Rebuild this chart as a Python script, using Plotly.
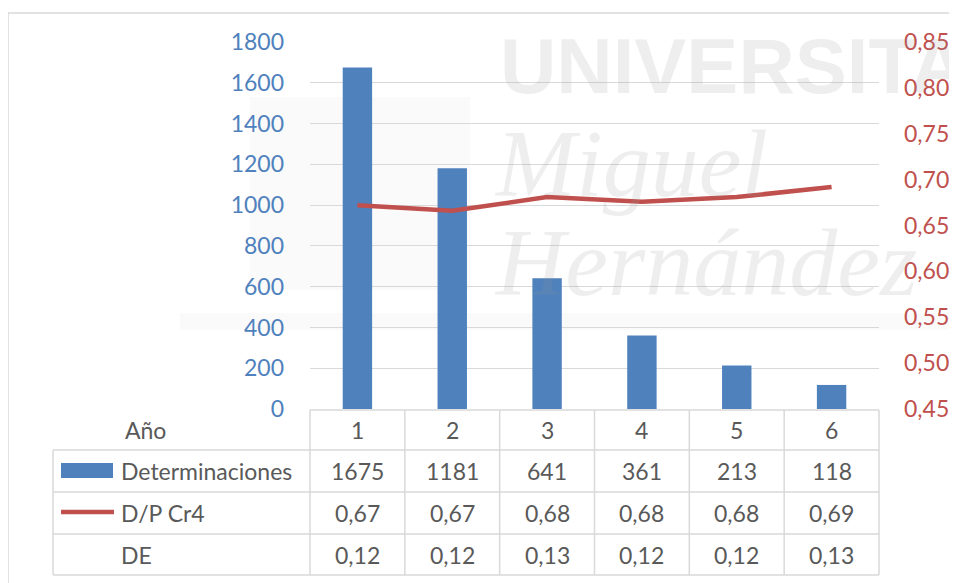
import plotly.graph_objects as go

# ---- data ----
years = [1, 2, 3, 4, 5, 6]
determinaciones = [1675, 1181, 641, 361, 213, 118]
dp_cr4 = [0.672, 0.666, 0.681, 0.676, 0.681, 0.692]
de = [0.12, 0.12, 0.13, 0.12, 0.12, 0.13]
left_ticks = [0, 200, 400, 600, 800, 1000, 1200, 1400, 1600, 1800]
right_ticks = [0.45, 0.50, 0.55, 0.60, 0.65, 0.70, 0.75, 0.80, 0.85]
row_labels = ["Año", "Determinaciones", "D/P Cr4", "DE"]

# ---- styles ----
OFF = 8  # page body margin: figure origin sits at page (8, 8)
W, H = 957 - OFF, 583 - OFF
PL, PR, PT, PB = 310, 879, 42, 409  # plot area in page pixels
L, R, T, B = PL - OFF, W - (PR - OFF), PT - OFF, H - (PB - OFF)
PW, PH = W - L - R, H - T - B
BLUE = "#4F81BD"
RED = "#C0504D"
GRID = "#D9D9D9"
TXT = "#595959"
FONT = "Lato"
FS = 23


def px(x):
    return (x - PL) / PW


def py(y):
    return (PB - y) / PH


def fmt(v):
    return f"{v:.2f}".replace(".", ",")


fig = go.Figure()
fig.add_bar(x=years, y=determinaciones, width=0.31, name="Determinaciones",
            marker=dict(color=BLUE, line=dict(width=0)), yaxis="y")
fig.add_scatter(x=years, y=dp_cr4, mode="lines", name="D/P Cr4",
                line=dict(color=RED, width=4.5), yaxis="y2")

shapes = []
annotations = []

# watermark (very faint)
wm = "rgba(150,150,150,0.16)"
annotations += [
    dict(text="<b>UNIVERSITAS</b>", xref="paper", yref="paper", x=px(498), y=py(66),
         xanchor="left", yanchor="middle", showarrow=False,
         font=dict(family="Liberation Sans", size=78, color=wm)),
    dict(text="<i>Miguel</i>", xref="paper", yref="paper", x=px(492), y=py(163),
         xanchor="left", yanchor="middle", showarrow=False,
         font=dict(family="Liberation Serif", size=96, color=wm)),
    dict(text="<i>Hernández</i>", xref="paper", yref="paper", x=px(492), y=py(262),
         xanchor="left", yanchor="middle", showarrow=False,
         font=dict(family="Liberation Serif", size=96, color=wm)),
]
shapes += [
    dict(type="rect", xref="paper", yref="paper", x0=px(250), x1=px(470), y0=py(97), y1=py(290),
         fillcolor="rgba(150,150,150,0.05)", line=dict(width=0), layer="below"),
    dict(type="rect", xref="paper", yref="paper", x0=px(180), x1=px(957), y0=py(313), y1=py(330),
         fillcolor="rgba(150,150,150,0.05)", line=dict(width=0), layer="below"),
]

# outer chart border
shapes.append(dict(type="rect", xref="paper", yref="paper", x0=px(8), x1=px(955),
                   y0=py(13), y1=py(620), line=dict(color=GRID, width=1.5),
                   fillcolor="rgba(0,0,0,0)"))

# data table grid
row_edges = [410, 450, 492, 534, 575]
xmin, xmax = 0.5, 6.5
col_edges = [(c - xmin) / (xmax - xmin) for c in [y - 0.5 for y in years] + [years[-1] + 0.5]]
line_style = dict(color=GRID, width=1.5)
for cx in col_edges:
    shapes.append(dict(type="line", xref="paper", yref="paper", x0=cx, x1=cx,
                       y0=py(row_edges[0]), y1=py(row_edges[-1]), line=line_style))
shapes.append(dict(type="line", xref="paper", yref="paper", x0=0, x1=1,
                   y0=py(row_edges[0]), y1=py(row_edges[0]), line=line_style))
for ry in row_edges[1:]:
    shapes.append(dict(type="line", xref="paper", yref="paper", x0=px(53), x1=1,
                       y0=py(ry), y1=py(ry), line=line_style))
shapes.append(dict(type="line", xref="paper", yref="paper", x0=px(53), x1=px(53),
                   y0=py(row_edges[1]), y1=py(row_edges[-1]), line=line_style))

# legend keys in table
shapes.append(dict(type="rect", xref="paper", yref="paper", x0=px(61), x1=px(113),
                   y0=py(478), y1=py(463), fillcolor=BLUE, line=dict(width=0)))
shapes.append(dict(type="line", xref="paper", yref="paper", x0=px(61), x1=px(114),
                   y0=py(512), y1=py(512), line=dict(color=RED, width=4.5)))

# table text
row_centers = [(row_edges[i] + row_edges[i + 1]) / 2 for i in range(4)]
rows = [
    [str(v) for v in years],
    [str(v) for v in determinaciones],
    [fmt(v) for v in dp_cr4],
    [fmt(v) for v in de],
]
for r, vals in enumerate(rows):
    for yr, txt in zip(years, vals):
        annotations.append(dict(text=txt, xref="x", yref="paper", x=yr, y=py(row_centers[r]),
                                xanchor="center", yanchor="middle", showarrow=False,
                                font=dict(family=FONT, size=FS, color=TXT)))
label_x = [123, 119, 119, 119]
for r, lab in enumerate(row_labels):
    annotations.append(dict(text=lab, xref="paper", yref="paper", x=px(label_x[r]),
                            y=py(row_centers[r]), xanchor="left", yanchor="middle",
                            showarrow=False, font=dict(family=FONT, size=FS, color=TXT)))

fig.update_layout(
    width=W, height=H,
    margin=dict(l=L, r=R, t=T, b=B, autoexpand=False),
    paper_bgcolor="white", plot_bgcolor="white",
    showlegend=False,
    separators=",.",
    font=dict(family=FONT, size=FS, color=TXT),
    xaxis=dict(range=[xmin, xmax], showticklabels=False, showgrid=False,
               zeroline=False, showline=False, ticks=""),
    yaxis=dict(range=[0, 1800], tickvals=left_ticks, showgrid=True, gridcolor=GRID,
               gridwidth=1.3, zeroline=False, showline=False, ticks="",
               tickfont=dict(family=FONT, size=FS, color=BLUE), ticklabelstandoff=25),
    yaxis2=dict(range=[0.45, 0.85], tickvals=right_ticks, tickformat=".2f",
                overlaying="y", side="right", showgrid=False, zeroline=False,
                showline=False, ticks="",
                tickfont=dict(family=FONT, size=FS, color=RED), ticklabelstandoff=24),
    shapes=shapes,
    annotations=annotations,
)

fig.write_html("out.html")
